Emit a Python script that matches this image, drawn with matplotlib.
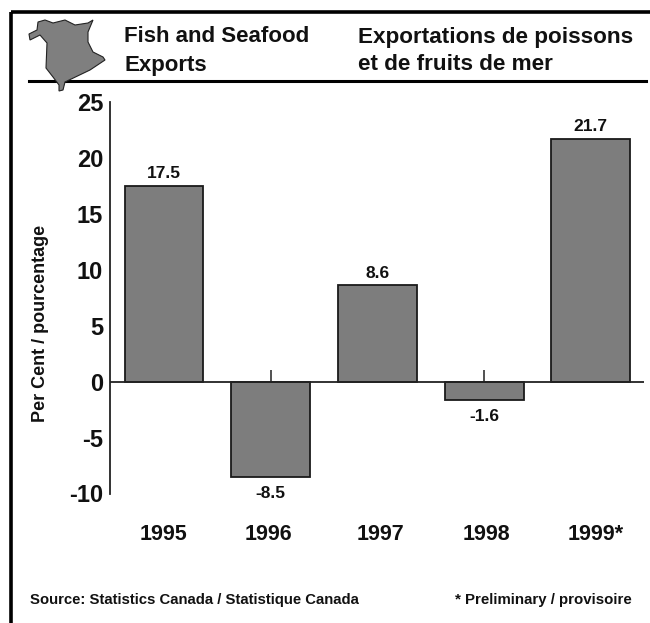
# -*- coding: utf-8 -*-
import matplotlib
matplotlib.use('Agg')
import matplotlib.pyplot as plt
from matplotlib.patches import Polygon, Rectangle

W, H = 650, 623
TEXT = '#111111'

years = ["1995", "1996", "1997", "1998", "1999*"]
values = [17.5, -8.5, 8.6, -1.6, 21.7]
value_labels = ["17.5", "-8.5", "8.6", "-1.6", "21.7"]
y_ticks = [25, 20, 15, 10, 5, 0, -5, -10]

# outline of the province, in page pixels
map_x = [38, 45, 53, 65, 75, 88, 93, 88, 88, 93, 103, 105, 90, 65, 63, 59, 59, 53, 46, 47, 40, 30, 29, 37, 38]
map_y = [22, 20, 23, 20, 25, 23, 20, 32, 42, 52, 57, 60, 70, 82, 90, 91, 85, 77, 68, 43, 35, 40, 34, 30, 22]

plt.rcParams['font.family'] = ['Liberation Sans', 'DejaVu Sans']

fig = plt.figure(figsize=(W / 100, H / 100), dpi=100)

# page layer in pixel coordinates
page = fig.add_axes([0, 0, 1, 1])
page.set_xlim(0, W)
page.set_ylim(H, 0)
page.axis('off')

page.add_patch(Rectangle((10.5, 11.5), 700, 700, fill=False, ec='black', lw=2.6))
page.plot([29, 646], [81, 81], color='black', lw=2.2, zorder=2)
page.add_patch(Polygon(list(zip(map_x, map_y)), closed=True, fc='#7f7f7f', ec='#222222', lw=0.8, zorder=3))

page.text(124, 37, "Fish and Seafood", fontsize=16, fontweight='bold', color=TEXT, va='center')
page.text(124, 65, "Exports", fontsize=16, fontweight='bold', color=TEXT, va='center')
page.text(358, 37, "Exportations de poissons", fontsize=16.2, fontweight='bold', color=TEXT, va='center')
page.text(358, 65, "et de fruits de mer", fontsize=16.2, fontweight='bold', color=TEXT, va='center')

page.text(41, 323, "Per Cent / pourcentage", fontsize=13, fontweight='bold', color=TEXT,
          rotation=90, ha='center', va='center')
page.text(30, 600, "Source: Statistics Canada / Statistique Canada", fontsize=10.7, fontweight='bold',
          color=TEXT, va='center')
page.text(632, 600, "* Preliminary / provisoire", fontsize=10.8, fontweight='bold', color=TEXT,
          ha='right', va='center')

# chart axes: 25 at y=102, -10 at y=493.5, x=110 to 644
ax = fig.add_axes([110 / W, 1 - 493.5 / H, 534 / W, 391.5 / H])
ax.patch.set_alpha(0)
ax.set_ylim(-10, 25)
ax.set_xlim(-0.506, 4.499)

xs = list(range(len(years)))
ax.bar(xs, values, width=0.74, color='#7d7d7d', edgecolor='#1a1a1a', linewidth=1.3, zorder=3)
ax.axhline(0, color='#222222', lw=1.3, zorder=4)
ax.vlines(xs, 0, 1, color='#222222', lw=1.1, zorder=2)

for x, v, lab in zip(xs, values, value_labels):
    off = 12 if v > 0 else -17
    ax.annotate(lab, (x, v), xytext=(0, off), textcoords='offset pixels', ha='center',
                va='center', fontsize=12.5, fontweight='bold', color=TEXT)

for s in ('top', 'right', 'bottom'):
    ax.spines[s].set_visible(False)
ax.spines['left'].set_linewidth(1.3)
ax.spines['left'].set_color('#222222')
ax.set_xticks([])
ax.set_yticks(y_ticks)
ax.set_yticklabels([str(t) for t in y_ticks], fontsize=17, fontweight='bold', color=TEXT)
ax.tick_params(axis='y', length=0, pad=5)

# year labels sit below the axis, a little off centre in the original
year_shift = [0, -2, 3.5, 2.5, 4.5]
for x, lab, dx in zip(xs, years, year_shift):
    ax.annotate(lab, (x, -10), xytext=(dx, -41), textcoords='offset pixels', ha='center', va='center',
                fontsize=15.5, fontweight='bold', color=TEXT)

fig.savefig('out.png', dpi=100)
